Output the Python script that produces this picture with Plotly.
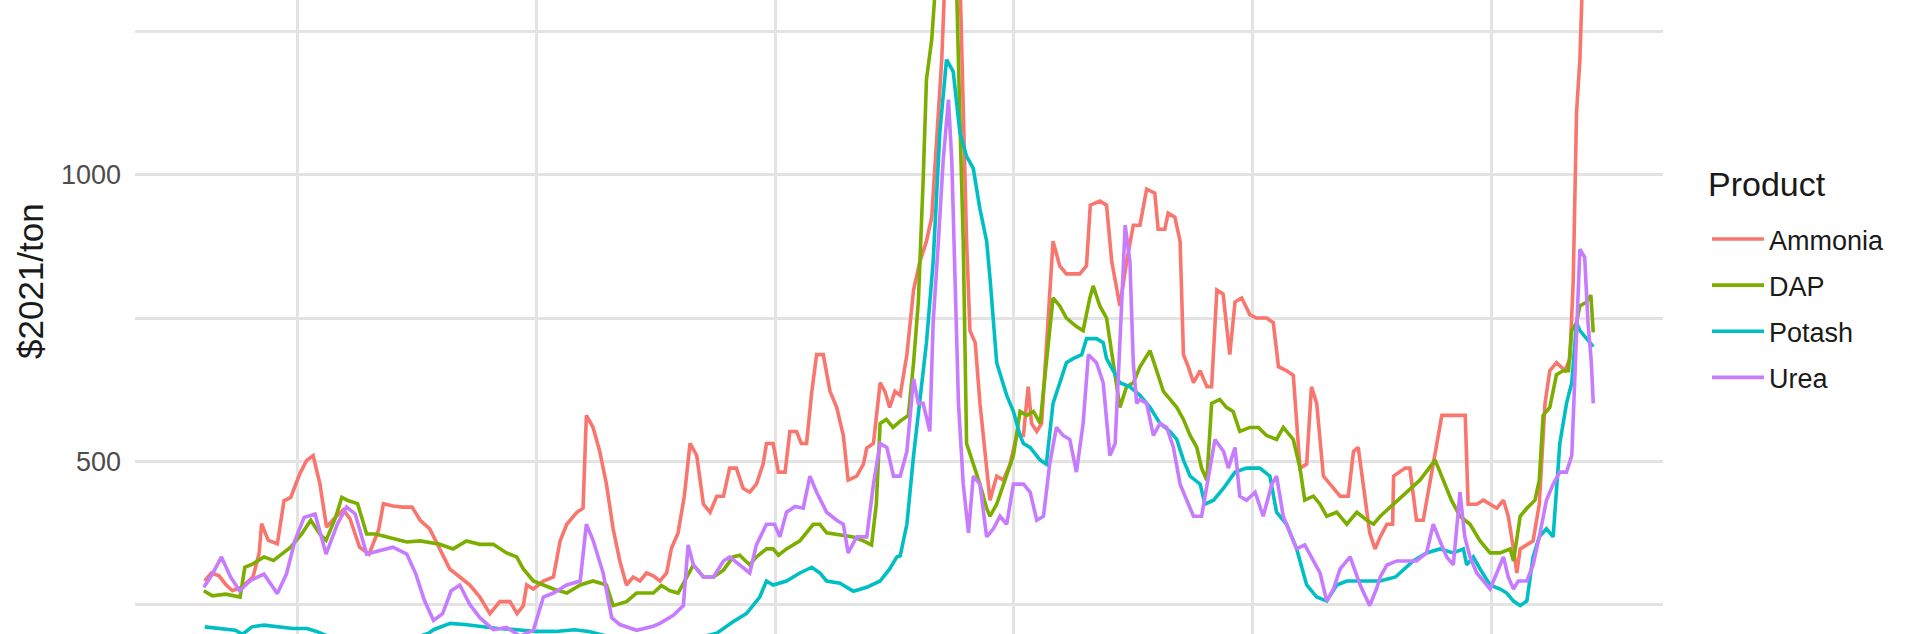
import plotly.graph_objects as go

# ---------------- data (decimal year, $2021/ton) ----------------
ammonia_t = [1993.06,1993.2,1993.36,1993.5,1993.64,1993.83,1994.07,1994.2,1994.25,1994.39,1994.58,1994.72,1994.86,
 1995.05,1995.19,1995.33,1995.47,1995.61,1995.79,1995.96,1996.1,1996.3,1996.5,1996.7,1996.8,1997.0,1997.2,1997.4,
 1997.57,1997.77,1997.98,1998.19,1998.4,1998.61,1998.82,1999.03,1999.24,1999.45,1999.6,1999.73,1999.8,1999.94,
 2000.15,2000.36,2000.5,2000.64,2000.85,2000.98,2001.05,2001.19,2001.33,2001.47,2001.61,2001.75,2001.89,2002.03,
 2002.17,2002.31,2002.45,2002.59,2002.73,2002.83,2002.97,2003.1,2003.22,2003.36,2003.5,2003.64,2003.78,2003.92,
 2004.05,2004.19,2004.33,2004.47,2004.61,2004.75,2004.82,2004.96,2005.07,2005.21,2005.31,2005.45,2005.55,2005.66,
 2005.77,2005.87,2006.01,2006.15,2006.29,2006.43,2006.53,2006.71,2006.85,2006.92,2007.06,2007.2,2007.3,2007.4,
 2007.51,2007.62,2007.76,2007.9,2008.03,2008.17,2008.28,2008.38,2008.49,2008.56,2008.7,2008.87,2008.94,2009.01,
 2009.08,2009.19,2009.29,2009.43,2009.5,2009.64,2009.78,2009.92,2010.06,2010.2,2010.3,2010.37,2010.48,2010.58,
 2010.68,2010.82,2010.96,2011.1,2011.38,2011.52,2011.6,2011.8,2011.94,2012.05,2012.22,2012.36,2012.5,2012.64,
 2012.78,2012.95,2013.02,2013.16,2013.23,2013.37,2013.48,2013.55,2013.65,2013.76,2013.9,2014.04,2014.14,2014.25,
 2014.38,2014.52,2014.63,2014.77,2014.94,2015.08,2015.29,2015.43,2015.54,2015.71,2015.85,2015.99,2016.13,2016.23,
 2016.34,2016.48,2016.62,2016.83,2017.0,2017.11,2017.21,2017.32,2017.45,2017.56,2017.67,2017.81,2017.93,2017.95,
 2018.08,2018.19,2018.29,2018.43,2018.57,2018.71,2018.85,2018.96,2019.2,2019.45,2019.51,2019.69,2019.83,2019.97,
 2020.11,2020.25,2020.35,2020.46,2020.53,2020.6,2020.74,2020.87,2021.0,2021.12,2021.22,2021.36,2021.54,2021.64,
 2021.71,2021.78,2021.85,2021.9,2022.0,2022.13]
ammonia_v = [291,305,300,285,274,280,298,340,391,362,356,431,437,
 478,501,510,461,385,402,415,400,350,338,380,426,422,420,420,
 397,382,347,312,298,284,263,234,255,255,234,248,284,277,
 291,298,361,390,411,418,580,559,517,460,382,326,284,298,
 291,305,300,291,305,348,375,439,531,510,425,411,439,439,
 488,488,453,446,460,495,531,531,481,481,552,552,531,531,
 622,686,686,622,594,545,467,474,495,523,531,637,622,594,
 622,615,686,799,848,884,926,1060,1201,1350,1450,1350,1095,884,
 728,707,601,495,432,474,467,495,545,545,630,566,552,566,
 707,884,841,827,827,841,947,954,947,848,771,848,912,912,
 975,968,905,905,933,926,884,686,665,637,658,630,630,799,
 792,686,778,785,756,750,750,742,665,658,650,488,495,630,
 601,474,460,439,439,517,524,460,375,347,368,390,390,474,
 481,488,488,397,397,460,531,580,580,580,425,425,432,425,
 418,432,404,347,305,347,354,361,425,601,658,672,658,679,
 813,1109,1201,1330,1450,1550]

dap_t = [1993.04,1993.22,1993.5,1993.8,1993.9,1994.07,1994.3,1994.5,1994.67,1994.86,1995.09,1995.28,1995.47,1995.6,
 1995.8,1995.93,1996.07,1996.26,1996.45,1996.64,1996.92,1997.29,1997.57,1997.98,1998.26,1998.54,1998.82,1999.1,
 1999.38,1999.59,1999.73,1999.94,2000.15,2000.36,2000.64,2000.92,2001.19,2001.47,2001.61,2001.89,2002.1,2002.45,
 2002.62,2002.8,2002.97,2003.18,2003.29,2003.5,2003.71,2003.92,2004.12,2004.26,2004.47,2004.61,2004.82,2004.96,
 2005.07,2005.24,2005.52,2005.8,2005.94,2006.08,2006.36,2006.64,2006.85,2007.02,2007.12,2007.2,2007.33,2007.47,
 2007.62,2007.79,2007.9,2008.0,2008.1,2008.17,2008.28,2008.35,2008.5,2008.7,2008.8,2008.87,2008.94,2009.01,
 2009.15,2009.29,2009.43,2009.5,2009.64,2009.78,2009.99,2010.13,2010.27,2010.41,2010.55,2010.68,2010.82,2010.96,
 2011.1,2011.31,2011.45,2011.59,2011.66,2011.8,2011.94,2012.08,2012.22,2012.36,2012.5,2012.64,2012.85,2012.99,
 2013.13,2013.27,2013.41,2013.55,2013.69,2013.83,2013.93,2014.04,2014.14,2014.31,2014.45,2014.59,2014.73,2014.94,
 2015.12,2015.29,2015.5,2015.64,2015.85,2015.99,2016.09,2016.27,2016.41,2016.55,2016.76,2016.97,2017.18,2017.39,
 2017.53,2017.67,2017.95,2018.22,2018.5,2018.82,2018.99,2019.16,2019.34,2019.55,2019.76,2019.97,2020.18,2020.39,
 2020.46,2020.6,2020.74,2020.91,2021.0,2021.08,2021.22,2021.36,2021.5,2021.61,2021.68,2021.78,2021.85,2021.99,
 2022.08,2022.13]
dap_v = [274,265,268,263,315,321,333,327,338,350,373,397,373,362,
 402,437,431,426,373,373,367,359,361,355,347,361,355,355,
 340,333,312,291,284,277,270,284,291,284,248,255,270,270,
 283,274,270,303,319,298,298,310,333,336,319,333,347,347,
 336,347,361,390,390,375,372,368,361,354,425,566,573,559,
 570,580,672,778,989,1166,1236,1330,1500,1450,1330,1095,884,531,
 495,460,418,404,425,460,510,587,580,587,566,672,785,771,
 750,735,728,785,806,771,750,672,594,630,637,665,693,658,
 622,608,594,573,545,524,488,467,601,608,594,587,552,559,
 559,545,538,559,538,488,432,439,425,404,411,390,411,397,
 390,404,425,446,467,502,467,432,404,390,361,340,340,347,
 326,404,418,432,467,580,594,651,658,658,728,742,771,778,
 790,725]

potash_t = [1993.06,1993.4,1993.7,1993.85,1994.05,1994.3,1994.6,1994.9,1995.2,1995.4,1995.6,1995.8,1996.2,1996.8,
 1997.4,1997.75,1997.85,1998.2,1998.5,1998.8,1999.2,1999.6,2000.0,2000.4,2000.8,2001.1,2001.35,2001.7,2002.2,
 2002.8,2003.4,2003.78,2004.12,2004.4,2004.68,2004.82,2004.96,2005.24,2005.52,2005.77,2005.94,2006.08,2006.36,
 2006.64,2006.92,2007.2,2007.4,2007.55,2007.62,2007.76,2007.9,2008.03,2008.17,2008.31,2008.45,2008.59,2008.73,
 2008.87,2009.01,2009.15,2009.29,2009.43,2009.5,2009.64,2009.85,2009.99,2010.13,2010.2,2010.34,2010.55,2010.68,
 2010.82,2010.96,2011.1,2011.24,2011.42,2011.52,2011.73,2011.87,2011.94,2012.08,2012.22,2012.43,2012.64,2012.85,
 2013.06,2013.27,2013.41,2013.55,2013.69,2013.9,2014.0,2014.18,2014.39,2014.63,2014.87,2015.15,2015.36,2015.5,
 2015.71,2015.92,2016.13,2016.34,2016.55,2016.76,2016.97,2017.25,2017.53,2017.67,2017.99,2018.36,2018.64,2018.92,
 2019.2,2019.41,2019.48,2019.62,2019.76,2019.97,2020.18,2020.32,2020.46,2020.6,2020.74,2020.87,2021.0,2021.15,
 2021.29,2021.43,2021.57,2021.68,2021.78,2021.85,2021.99,2022.13]
potash_v = [211,208,205,198,211,214,211,208,208,203,196,188,185,185,
 190,200,206,217,215,212,208,206,203,203,206,203,197,190,187,
 187,192,200,220,234,263,291,284,291,305,315,305,291,287,
 273,280,291,312,333,335,390,510,601,707,848,1074,1201,1180,
 1074,1032,1011,940,884,820,672,615,587,545,531,524,502,495,
 601,637,672,679,686,714,714,707,679,658,637,630,615,594,
 566,552,538,502,474,460,425,432,453,481,488,488,474,411,
 390,347,284,263,256,284,291,291,291,291,298,326,340,347,
 340,347,319,333,312,284,277,270,256,248,256,333,368,382,
 368,531,601,637,742,728,714,700]

urea_t = [1993.04,1993.22,1993.41,1993.6,1993.79,1994.02,1994.3,1994.58,1994.77,1994.95,1995.14,1995.37,1995.6,1995.84,
 1996.03,1996.21,1996.45,1996.73,1997.0,1997.29,1997.48,1997.66,1997.85,1998.04,1998.22,1998.4,1998.61,1998.82,
 1999.1,1999.38,1999.66,1999.94,2000.15,2000.36,2000.64,2000.92,2001.05,2001.19,2001.4,2001.58,2001.75,2002.1,
 2002.45,2002.59,2002.87,2003.08,2003.18,2003.29,2003.5,2003.71,2003.92,2004.05,2004.26,2004.47,2004.61,2004.82,
 2004.99,2005.1,2005.24,2005.42,2005.59,2005.73,2005.87,2006.08,2006.29,2006.43,2006.53,2006.71,2006.92,2007.06,
 2007.2,2007.34,2007.48,2007.62,2007.76,2007.9,2008.0,2008.1,2008.24,2008.31,2008.42,2008.52,2008.63,2008.7,
 2008.77,2008.84,2008.94,2009.05,2009.15,2009.29,2009.43,2009.57,2009.71,2009.85,2009.99,2010.2,2010.34,2010.48,
 2010.62,2010.75,2010.89,2011.03,2011.17,2011.31,2011.45,2011.56,2011.73,2011.87,2012.01,2012.12,2012.22,2012.33,
 2012.43,2012.5,2012.57,2012.64,2012.78,2012.92,2013.06,2013.2,2013.34,2013.48,2013.62,2013.76,2013.93,2014.04,
 2014.21,2014.39,2014.49,2014.63,2014.73,2014.87,2015.05,2015.22,2015.4,2015.5,2015.64,2015.78,2015.92,2016.09,
 2016.23,2016.41,2016.55,2016.69,2016.83,2017.04,2017.25,2017.45,2017.59,2017.67,2017.81,2018.02,2018.22,2018.43,
 2018.64,2018.78,2018.92,2019.06,2019.2,2019.34,2019.44,2019.55,2019.69,2019.83,2019.97,2020.11,2020.25,2020.35,
 2020.46,2020.56,2020.74,2020.87,2021.0,2021.15,2021.29,2021.43,2021.57,2021.68,2021.75,2021.85,2021.95,2022.02,
 2022.09,2022.13]
urea_v = [280,303,333,298,274,292,303,269,303,362,402,408,338,391,
 420,408,338,344,350,338,303,257,222,234,274,284,250,227,
 206,210,195,205,263,270,284,291,390,362,305,227,215,205,
 212,217,231,248,354,319,298,298,326,333,319,305,354,390,
 390,368,411,421,418,474,446,411,397,390,340,368,368,460,
 531,524,474,474,517,644,601,601,552,742,884,1025,1131,1025,
 813,601,460,375,474,460,368,382,404,390,460,460,446,397,
 404,495,559,545,538,481,566,686,672,637,510,531,707,912,
 848,672,601,608,601,545,566,559,524,460,432,404,404,460,
 538,517,488,524,439,432,446,404,460,474,404,375,347,354,
 333,305,256,277,312,333,284,248,277,298,319,326,326,326,
 340,390,361,333,319,446,368,333,305,291,277,305,333,298,
 277,291,291,319,368,432,460,481,481,510,672,870,856,742,
 672,601]

products = ["Ammonia", "DAP", "Potash", "Urea"]
colors = ["#F8766D", "#7CAE00", "#00BFC4", "#C77CFF"]
series_t = [ammonia_t, dap_t, potash_t, urea_t]
series_v = [ammonia_v, dap_v, potash_v, urea_v]

FONT = "Liberation Sans, Arial, Helvetica, sans-serif"
GRID = "#E3E3E3"
PLOT_L, PLOT_W = 135, 1528

fig = go.Figure()
for name, col, t, v in zip(products, colors, series_t, series_v):
    fig.add_trace(go.Scatter(x=t, y=v, mode="lines", name=name, legendgroup=name,
                             line=dict(color=col, width=3.6)))

fig.update_layout(
    width=1920, height=634,
    margin=dict(l=PLOT_L, r=1920 - PLOT_L - PLOT_W, t=0, b=0),
    paper_bgcolor="white", plot_bgcolor="white",
    font=dict(family=FONT),
    showlegend=True,
    legend=dict(
        font=dict(size=27, color="#1a1a1a", family=FONT),
        x=(1707 - PLOT_L) / PLOT_W, xanchor="left",
        y=1 - 215 / 634, yanchor="top",
        bgcolor="rgba(0,0,0,0)", tracegroupgap=8,
        traceorder="grouped", itemwidth=52,
    ),
)
fig.update_xaxes(
    range=[1991.60, 2023.59], tick0=1995, dtick=5,
    showgrid=True, gridcolor=GRID, gridwidth=3,
    showticklabels=False, ticks="", zeroline=False, showline=False,
)
fig.update_yaxes(
    range=[198.5, 1305], tickvals=[500, 1000], ticktext=["500", "1000"],
    showgrid=True, gridcolor=GRID, gridwidth=3,
    minor=dict(tickvals=[250, 750, 1250], showgrid=True, gridcolor=GRID, gridwidth=3),
    tickfont=dict(size=27, color="#4D4D4D", family=FONT),
    ticks="", ticklabelstandoff=13, zeroline=False, showline=False, automargin=False,
)
fig.add_annotation(
    text="$2021/ton", textangle=-90, showarrow=False,
    xref="paper", yref="paper", x=(30 - PLOT_L) / PLOT_W, y=1 - 281 / 634,
    xanchor="center", yanchor="middle",
    font=dict(size=35, color="#1a1a1a", family=FONT),
)
fig.add_annotation(
    text="Product", showarrow=False,
    xref="paper", yref="paper", x=(1706 - PLOT_L) / PLOT_W, y=1 - 184 / 634,
    xanchor="left", yanchor="middle",
    font=dict(size=34, color="#1a1a1a", family=FONT),
)

fig.write_html("out.html", config={"displayModeBar": False},
               post_script="document.body.style.margin='0px';document.body.style.overflow='hidden';")
